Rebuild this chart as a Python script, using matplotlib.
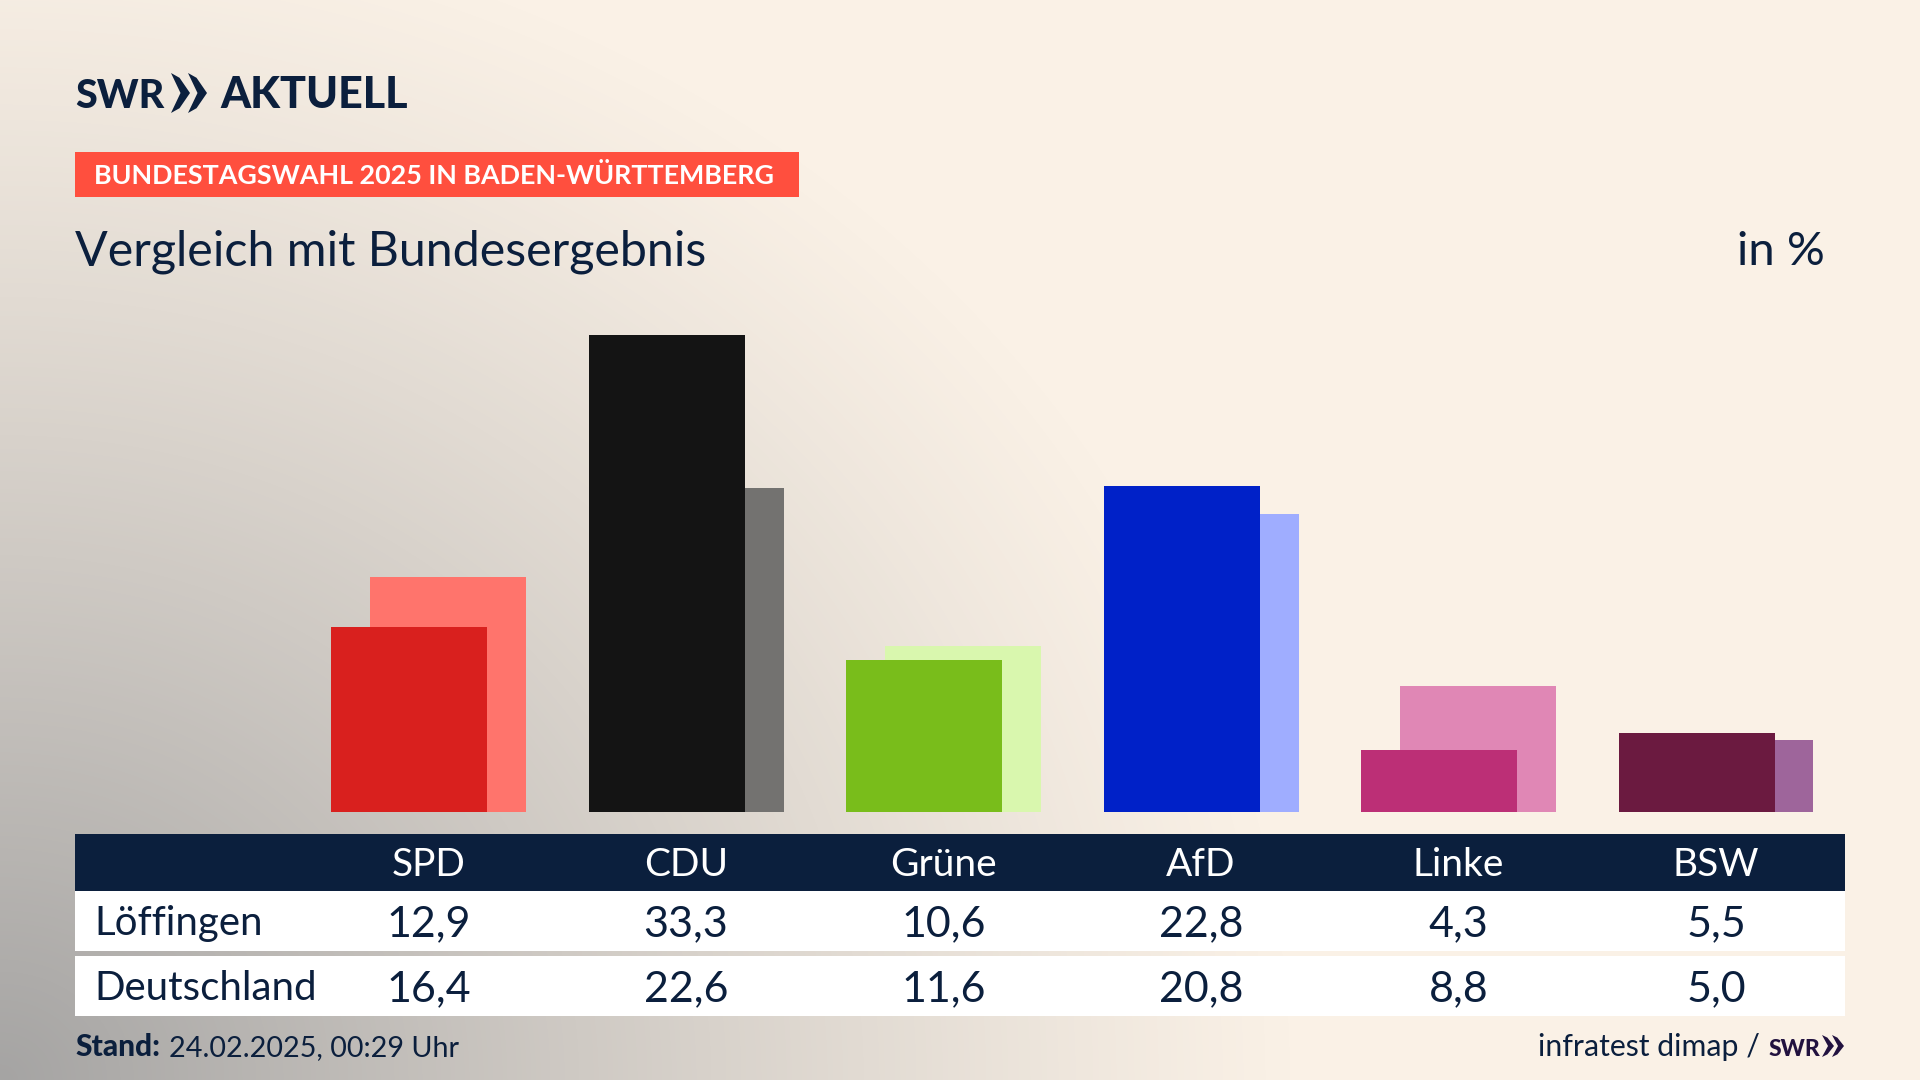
import numpy as np
import matplotlib
matplotlib.use("Agg")
import matplotlib.pyplot as plt
from matplotlib.patches import Rectangle, Polygon
from matplotlib.colors import LinearSegmentedColormap

parties = ["SPD", "CDU", "Grüne", "AfD", "Linke", "BSW"]
local_values = [12.9, 33.3, 10.6, 22.8, 4.3, 5.5]
national_values = [16.4, 22.6, 11.6, 20.8, 8.8, 5.0]
local_colors = ["#D9201E", "#141414", "#79BD1B", "#0021C8", "#BC2F76", "#6B1A40"]
national_colors = ["#FF746C", "#737270", "#D9F7AE", "#9FADFF", "#E087B5", "#9E659B"]
row_labels = ["Löffingen", "Deutschland"]

NAVY = "#0B1F3D"
FONT = "Lato"
W, H = 1920, 1080
fig = plt.figure(figsize=(W / 100, H / 100), dpi=100)

bg = fig.add_axes([0, 0, 1, 1])
bg.axis("off")
yy, xx = np.mgrid[0:H, 0:W]
d = np.sqrt((xx / 1300.0) ** 2 + ((H - yy) / 1180.0) ** 2)
t = np.clip(1 - d, 0, 1) ** 1.15
cmap = LinearSegmentedColormap.from_list("bg", ["#FAF1E6", "#A5A4A3"])
bg.imshow(t, cmap=cmap, vmin=0, vmax=1, extent=(0, W, H, 0), aspect="auto", zorder=0)
bg.set_xlim(0, W)
bg.set_ylim(H, 0)


def T(x, y, s, size, color=NAVY, ha="left", weight="normal"):
    bg.text(x, y, s, fontsize=size, color=color, ha=ha, va="baseline",
            family=FONT, fontweight=weight, zorder=5)


def chevrons(x, top, bottom, w, gap, color, n=2):
    mid = (top + bottom) / 2
    for k in range(n):
        x0 = x + k * gap
        bg.add_patch(Polygon([(x0, top), (x0 + w * 0.45, top + (bottom - top) * 0.12), (x0 + w, mid),
                              (x0 + w * 0.45, bottom - (bottom - top) * 0.12), (x0, bottom), (x0 + w * 0.5, mid)],
                             closed=True, fc=color, ec="none", zorder=5))


# header
T(75, 108, "SWR", 28.5, weight="black")
chevrons(171, 73, 113, 19, 17, NAVY)
T(220, 108, "AKTUELL", 31, weight="black")
bg.add_patch(Rectangle((75, 152), 724, 45, fc="#FF4F3E", ec="none", zorder=2))
T(94, 184, "BUNDESTAGSWAHL 2025 IN BADEN-WÜRTTEMBERG", 19.4, color="white", weight="bold")
T(75, 265, "Vergleich mit Bundesergebnis", 34.8)
T(1825, 265, "in %", 34, ha="right")

# bars
CENTER0, STEP, BASE, PXU = 428.5, 257.5, 812.0, 14.32
ax = fig.add_axes([0, 1 - BASE / H, 1, BASE / H])
ax.patch.set_alpha(0)
ax.set_xlim(-CENTER0 / STEP, (W - CENTER0) / STEP)
ax.set_ylim(0, BASE / PXU)
ax.axis("off")
bw = 156 / STEP
off = 19.5 / STEP
x = np.arange(len(parties))
ax.bar(x + off, national_values, width=bw, color=national_colors, zorder=1)
ax.bar(x - off, local_values, width=bw, color=local_colors, zorder=2)

# table
bg.add_patch(Rectangle((75, 834), 1770, 57, fc=NAVY, ec="none", zorder=2))
bg.add_patch(Rectangle((75, 891), 1770, 60, fc="white", ec="none", zorder=2))
bg.add_patch(Rectangle((75, 956), 1770, 60, fc="white", ec="none", zorder=2))
T(94, 935, row_labels[0], 29)
T(94, 1000, row_labels[1], 29)
for i, p in enumerate(parties):
    cx = CENTER0 + STEP * i
    T(cx, 876, p, 28, color="white", ha="center")
    T(cx, 936, f"{local_values[i]:.1f}".replace(".", ","), 31, ha="center")
    T(cx, 1001, f"{national_values[i]:.1f}".replace(".", ","), 31, ha="center")

# footer
T(75, 1056, "Stand:", 21.5, weight="black")
T(169, 1056, "24.02.2025, 00:29 Uhr", 20.7)
T(1760, 1056, "infratest dimap /", 21.8, ha="right")
T(1769, 1056, "SWR", 16.5, color="#22123F", weight="black")
chevrons(1822, 1035, 1057, 12, 10, "#22123F")

fig.savefig("out.png", dpi=100)
